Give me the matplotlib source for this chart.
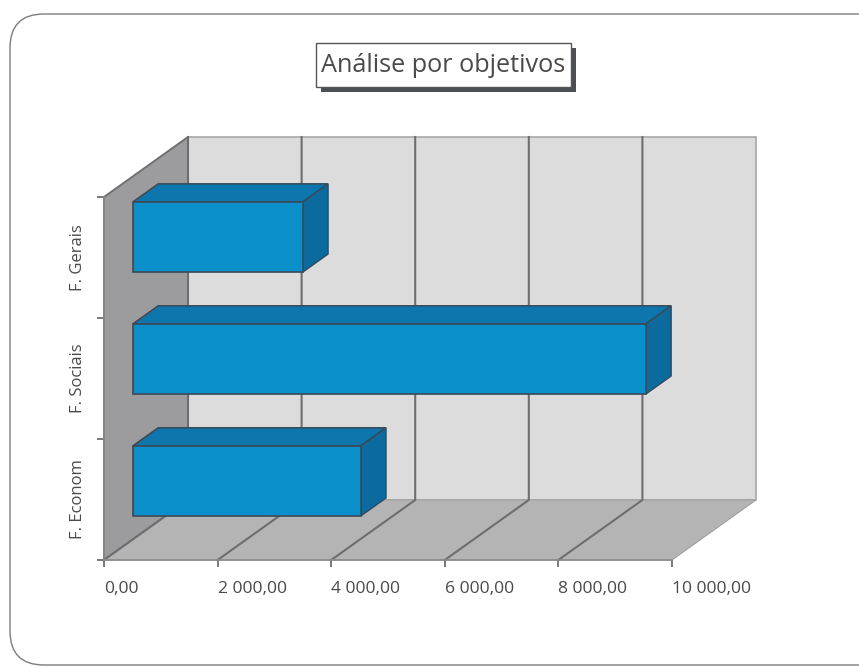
import matplotlib
matplotlib.use('Agg')
import matplotlib.pyplot as plt
from matplotlib.patches import Polygon, Rectangle, FancyBboxPatch

plt.rcParams['font.family'] = ['Open Sans', 'DejaVu Sans']

categories = ['F. Econom', 'F. Sociais', 'F. Gerais']
values = [4010, 9030, 2990]
x_ticks = [0, 2000, 4000, 6000, 8000, 10000]
x_labels = ['0,00', '2 000,00', '4 000,00', '6 000,00', '8 000,00', '10 000,00']
title = 'Análise por objetivos'

W, H = 859, 668
# projection of the box depth, in data units
DX, DY = 1479, 0.496
BAR_D0, BAR_D1 = 0.345, 0.645
BAR_H = 0.58

TEXT = '#4a4a4a'
GRID = '#6e6e70'


def proj(x, y, d):
    return (x + DX * d, y + DY * d)


fig = plt.figure(figsize=(W / 100, H / 100), dpi=100, facecolor='white')

# page frame and title box, in pixels
bg = fig.add_axes([0, 0, 1, 1])
bg.set_xlim(0, W)
bg.set_ylim(H, 0)
bg.axis('off')
bg.add_patch(FancyBboxPatch((10, 14), W + 30, 651,
                            boxstyle='round,pad=0,rounding_size=34',
                            fc='white', ec='#7c7c7c', lw=1.0))
bg.add_patch(Rectangle((321, 48), 255, 44, fc='#4d5052', ec='none'))
bg.add_patch(Rectangle((316, 43), 255, 44, fc='white', ec='#555555', lw=1))
bg.text(443.5, 66, title, fontsize=18.2, color=TEXT, ha='center', va='center')

ax = fig.add_axes([104 / W, 1 - 560 / H, 568 / W, 363 / H])
ax.set_xlim(0, 10000)
ax.set_ylim(0, 3)
ax.patch.set_alpha(0)
for s in ['top', 'right']:
    ax.spines[s].set_visible(False)
for s in ['left', 'bottom']:
    ax.spines[s].set_color('#8a8a8a')
    ax.spines[s].set_linewidth(1.2)

# walls and floor
back = [proj(0, 0, 1), proj(10000, 0, 1), proj(10000, 3, 1), proj(0, 3, 1)]
side = [(0, 0), proj(0, 0, 1), proj(0, 3, 1), (0, 3)]
floor = [(0, 0), (10000, 0), proj(10000, 0, 1), proj(0, 0, 1)]
ax.add_patch(Polygon(back, fc='#dcdcdd', ec='#a8a8a8', lw=1.2, clip_on=False, zorder=1))
ax.add_patch(Polygon(side, fc='#9c9c9e', ec='#707072', lw=1.4, clip_on=False, zorder=1.1))
ax.add_patch(Polygon(floor, fc='#b4b4b5', ec='#a0a0a0', lw=0.8, clip_on=False, zorder=1.1))

# gridlines run over the floor then up the back wall
for t in x_ticks[:-1]:
    x0, y0 = proj(t, 0, 0)
    x1, y1 = proj(t, 0, 1)
    x2, y2 = proj(t, 3, 1)
    ax.plot([x0, x1, x2], [y0, y1, y2], color=GRID, lw=1.5, clip_on=False, zorder=1.5)

# bars: front face plus projected top and end
for i, v in enumerate(values):
    bottom = 0.364 + i * 1.008
    left = proj(0, 0, BAR_D0)[0]
    ax.barh(bottom + BAR_H / 2, v, left=left, height=BAR_H, color='#0a8fcb',
            edgecolor='#3a4a58', lw=1.2, clip_on=False, zorder=3)
    shift = DX * (BAR_D1 - BAR_D0)
    rise = DY * (BAR_D1 - BAR_D0)
    right = left + v
    top = bottom + BAR_H
    ax.add_patch(Polygon([(left, top), (right, top), (right + shift, top + rise), (left + shift, top + rise)],
                         fc='#0c76ad', ec='#3a4a58', lw=1.1, clip_on=False, zorder=2.8))
    ax.add_patch(Polygon([(right, bottom), (right + shift, bottom + rise), (right + shift, top + rise), (right, top)],
                         fc='#0b6b9f', ec='#3a4a58', lw=1.1, clip_on=False, zorder=2.9))

ax.set_xticks(x_ticks)
ax.set_xticklabels(x_labels, ha='left', fontsize=12.6, color=TEXT)
ax.set_yticks([0, 1, 2, 3])
ax.set_yticklabels([])
ax.set_yticks([0.5, 1.5, 2.5], minor=True)
ax.set_yticklabels(categories, minor=True, rotation=90, va='center', fontsize=12, color=TEXT)
ax.tick_params(axis='both', which='major', length=5, width=1.1, color='#555555')
ax.tick_params(axis='x', pad=10)
ax.tick_params(axis='y', which='minor', length=0, pad=13)

fig.savefig('out.png', dpi=100)
